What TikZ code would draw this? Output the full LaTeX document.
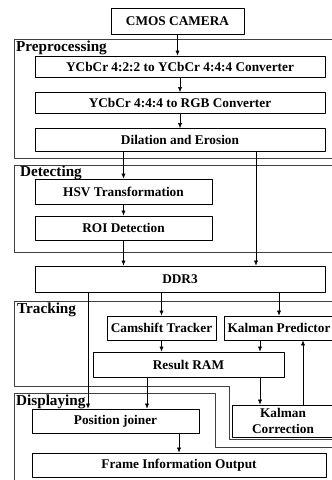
\documentclass[tikz,border=0pt]{standalone}
\usepackage{fontspec}
\setmainfont{Liberation Serif}
\usetikzlibrary{arrows.meta}
\begin{document}
\begin{tikzpicture}[>={Latex[length=5pt,width=4pt]},line join=round,x=1pt,y=-1pt,
	blk/.style={draw,line width=0.8pt,inner sep=0pt,align=center,font=\fontsize{13.3}{16.5}\selectfont\bfseries},
	frm/.style={draw=black!75,line width=1pt},
	lbl/.style={anchor=base west,inner sep=0pt,font=\fontsize{15.2}{16}\selectfont\bfseries}]
	\useasboundingbox (0,0) rectangle (332,480);
	
	% frames
	\draw[frm] (345,39) -- (14,39) -- (14,158) -- (345,158);
	\draw[frm] (345,165) -- (14,165) -- (14,252) -- (345,252);
	\draw[frm] (345,301) -- (14,301) -- (14,386) -- (229,386) -- (229,439) -- (345,439);
	\draw[frm] (345,447) -- (215,447) -- (215,393) -- (14,393) -- (14,490);
	\node[lbl] (lpre) at (16,51.7) {Preprocessing};
	\node[lbl] (ldet) at (20,176.7) {Detecting};
	\node[lbl] (ltrk) at (17,313) {Tracking};
	\node[lbl] (ldsp) at (16,405.7) {Displaying};
	
	% blocks
	\node[blk,minimum width=133pt,minimum height=26pt] (cam) at (177.5,21) {CMOS CAMERA};
	\node[blk,minimum width=290pt,minimum height=21pt] (yuv) at (180,66.5) {YCbCr 4:2:2 to YCbCr 4:4:4 Converter};
	\node[blk,minimum width=290pt,minimum height=21pt] (rgb) at (180,103) {YCbCr 4:4:4 to RGB Converter};
	\node[blk,minimum width=290pt,minimum height=23pt] (dil) at (180,140) {Dilation and Erosion};
	\node[blk,minimum width=177pt,minimum height=25pt] (hsv) at (123.5,191.5) {HSV Transformation};
	\node[blk,minimum width=177pt,minimum height=24pt] (roi) at (123.5,228) {ROI Detection};
	\node[blk,minimum width=290pt,minimum height=26pt] (ddr) at (180,279) {DDR3};
	\node[blk,minimum width=109pt,minimum height=24pt] (cams) at (161.5,328) {Camshift Tracker};
	\node[blk,minimum width=110pt,minimum height=24pt] (kpred) at (279,328) {Kalman Predictor};
	\node[blk,minimum width=191pt,minimum height=25pt] (ram) at (188.5,364.5) {Result RAM};
	\node[blk,minimum width=102pt,minimum height=32pt] (kcor) at (283,421) {Kalman\\Correction};
	\node[blk,minimum width=167pt,minimum height=24pt] (pos) at (115.5,421) {Position joiner};
	\node[blk,minimum width=294pt,minimum height=24pt] (out) at (179,465) {Frame Information Output};
	
	% connections
	\draw[->] (cam) -- (cam |- yuv.north);
	\draw[->] (yuv) -- (rgb);
	\draw[->] (rgb) -- (dil);
	\draw[->] (dil.south -| hsv) -- (hsv);
	\draw[->] (hsv) -- (roi);
	\draw[->] (roi) -- (roi |- ddr.north);
	\draw[->] ([xshift=76pt]dil.south) -- ([xshift=76pt]ddr.north);
	\draw[->] ([xshift=-92pt]ddr.south) -- ([xshift=-92pt]ddr.south |- pos.north);
	\draw[->] (ddr.south -| cams) -- (cams);
	\draw[->] (ddr.south -| kpred) -- (kpred);
	\draw[->] (cams) -- (cams |- ram.north);
	\draw[->] ([xshift=-19pt]kpred.south) -- ([xshift=-19pt]kpred.south |- ram.north);
	\draw[->] ([xshift=-41.5pt]ram.south) -- ([xshift=-41.5pt]ram.south |- pos.north);
	\draw[->] ([xshift=71.5pt]ram.south) -- ([xshift=71.5pt]ram.south |- kcor.north);
	\draw[->] ([xshift=20pt]kcor.north) -- ([xshift=20pt]kcor.north |- kpred.south);
	\draw[->] (pos.south -| out) -- (out);
\end{tikzpicture}
\end{document}
